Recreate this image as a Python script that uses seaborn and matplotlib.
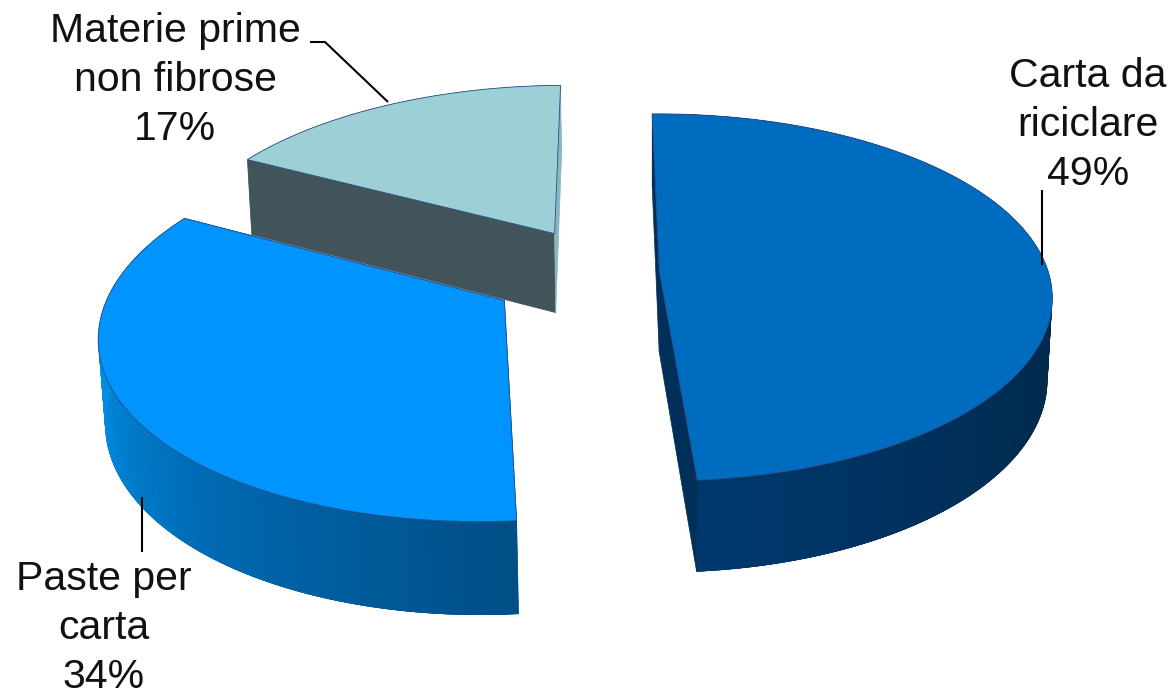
import numpy as np
import matplotlib
matplotlib.use("Agg")
import matplotlib.pyplot as plt
from matplotlib.collections import PolyCollection
from matplotlib.patches import Polygon
import seaborn as sns

# Chart data
labels = ["Carta da\nriciclare", "Paste per\ncarta", "Materie prime\nnon fibrose"]
shares = [49, 34, 17]

# Slice styling
top_colors = ["#006cc0", "#0094ff", "#9dd0d6"]
wall_stops = [
    ["#002b4e", "#002b4e", "#002b4e", "#00386e"],
    ["#004f86", "#0068b0", "#008de4", "#008de4"],
    ["#88b8be", "#88b8be", "#88b8be", "#88b8be"],
]
end_wall_colors = ["#002f5a", "#004f86", "#88b8be"]
start_wall_colors = ["#002f5a", "#004f86", "#40545a"]

# Explosion of each slice on the pie plane (pie radius = 1)
explode = [(0.024, 0.006), (-0.366, -0.155), (-0.253, 0.22)]

START_ANGLE = -1.0
CENTER_X, CENTER_Y = 650, 272
RADIUS_X, RADIUS_Y = 389, 180
PERSPECTIVE = 0.1445
THICKNESS = 82
BOTTOM_SHRINK = 0.012

label_pos = [(1088, 125), (104, 628), (175, 80)]
leaders = [
    ([1042, 1042], [190, 265]),
    ([142, 142], [497, 552]),
    ([310, 325, 388], [42, 42, 102]),
]


def project(x, y, bottom=False):
    """Perspective projection of pie plane points to pixel coordinates."""
    w = 1 + PERSPECTIVE * y
    if bottom:
        w = w + BOTTOM_SHRINK
    px = CENTER_X + RADIUS_X * x / w
    py = CENTER_Y - RADIUS_Y * y / w
    if bottom:
        py = py + THICKNESS / w
    return np.column_stack([px, py])


def draw_slice(ax, a0, a1, offset, i):
    """Draw walls and top face of one exploded slice."""
    theta = np.radians(np.linspace(a0, a1, 240))
    x = offset[0] + np.sin(theta)
    y = offset[1] + np.cos(theta)
    apex_x = np.array([offset[0]])
    apex_y = np.array([offset[1]])

    top = project(x, y)
    bot = project(x, y, bottom=True)
    apex_top = project(apex_x, apex_y)
    apex_bot = project(apex_x, apex_y, bottom=True)

    # outer wall with gradient, quads overlap so no seams show
    n = len(theta) - 1
    cols = sns.blend_palette(wall_stops[i], n_colors=n)
    quads = []
    for k in range(n):
        j = min(k + 4, n)
        quads.append([top[k], top[j], bot[j], bot[k]])
    ax.add_collection(PolyCollection(quads, facecolors=cols, edgecolors="none", zorder=i * -10 + 1))

    # radial walls
    start_wall = [top[0], bot[0], apex_bot[0], apex_top[0]]
    end_wall = [top[-1], bot[-1], apex_bot[0], apex_top[0]]
    ax.add_patch(Polygon(start_wall, fc=start_wall_colors[i], ec=start_wall_colors[i], lw=0.5, zorder=i * -10 + 2))
    ax.add_patch(Polygon(end_wall, fc=end_wall_colors[i], ec=end_wall_colors[i], lw=0.5, zorder=i * -10 + 2))

    # top face
    face = np.vstack([apex_top, top])
    ax.add_patch(Polygon(face, closed=True, fc=top_colors[i], ec="#2c4c8c", lw=0.6, joinstyle="miter", zorder=i * -10 + 3))


sns.set_theme(style="white")
plt.rcParams["font.family"] = ["Liberation Sans", "DejaVu Sans"]

fig = plt.figure(figsize=(11.75, 6.96), dpi=100)
ax = fig.add_axes([0, 0, 1, 1])
ax.set_xlim(0, 1175)
ax.set_ylim(696, 0)
ax.axis("off")

angle = START_ANGLE
for i, share in enumerate(shares):
    sweep = share / sum(shares) * 360
    draw_slice(ax, angle, angle + sweep, explode[i], i)
    angle += sweep

for lx, ly in leaders:
    ax.plot(lx, ly, color="black", lw=1.5, zorder=5, solid_capstyle="butt")

for i, label in enumerate(labels):
    ax.text(label_pos[i][0], label_pos[i][1], f"{label}\n{shares[i]}%", ha="center", va="center",
            fontsize=29.5, color="#111111", linespacing=1.37, zorder=6)

fig.savefig("out.png", dpi=100)
plt.close(fig)
